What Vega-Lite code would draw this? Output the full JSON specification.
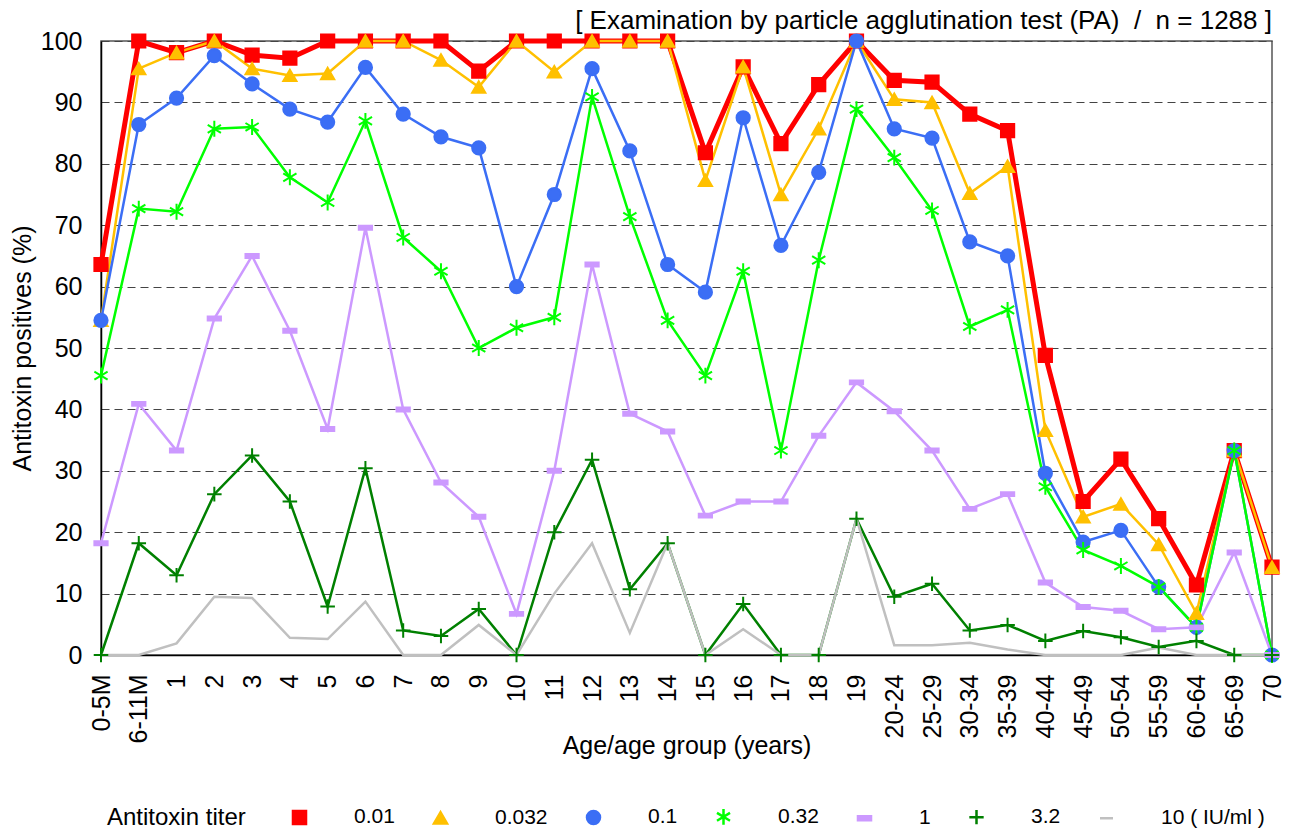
{
  "$schema": "https://vega.github.io/schema/vega-lite/v6.json",
  "width": 1171,
  "height": 614,
  "autosize": {"type": "none"},
  "padding": {"left": 101, "top": 41, "right": 18, "bottom": 182},
  "title": {"text": "[ Examination by particle agglutination test (PA)\u00a0 /\u00a0 n = 1288 ]", "anchor": "end", "frame": "group", "fontSize": 26, "fontWeight": "normal", "offset": -5, "color": "#000"},
  "datasets": {
    "d": [
      {"age":"0-5M","titer":"0.01","pct":63.6},{"age":"6-11M","titer":"0.01","pct":100},{"age":"1","titer":"0.01","pct":98.1},{"age":"2","titer":"0.01","pct":100},{"age":"3","titer":"0.01","pct":97.7},{"age":"4","titer":"0.01","pct":97.2},{"age":"5","titer":"0.01","pct":100},{"age":"6","titer":"0.01","pct":100},{"age":"7","titer":"0.01","pct":100},{"age":"8","titer":"0.01","pct":100},{"age":"9","titer":"0.01","pct":95.1},{"age":"10","titer":"0.01","pct":100},{"age":"11","titer":"0.01","pct":100},{"age":"12","titer":"0.01","pct":100},{"age":"13","titer":"0.01","pct":100},{"age":"14","titer":"0.01","pct":100},{"age":"15","titer":"0.01","pct":81.8},{"age":"16","titer":"0.01","pct":95.8},{"age":"17","titer":"0.01","pct":83.3},{"age":"18","titer":"0.01","pct":92.9},{"age":"19","titer":"0.01","pct":100},{"age":"20-24","titer":"0.01","pct":93.6},{"age":"25-29","titer":"0.01","pct":93.3},{"age":"30-34","titer":"0.01","pct":88.1},{"age":"35-39","titer":"0.01","pct":85.4},{"age":"40-44","titer":"0.01","pct":48.8},{"age":"45-49","titer":"0.01","pct":25.0},{"age":"50-54","titer":"0.01","pct":31.9},{"age":"55-59","titer":"0.01","pct":22.2},{"age":"60-64","titer":"0.01","pct":11.4},{"age":"65-69","titer":"0.01","pct":33.3},{"age":"70","titer":"0.01","pct":14.3},
      {"age":"0-5M","titer":"0.032","pct":54.5},{"age":"6-11M","titer":"0.032","pct":95.5},{"age":"1","titer":"0.032","pct":98.1},{"age":"2","titer":"0.032","pct":100},{"age":"3","titer":"0.032","pct":95.5},{"age":"4","titer":"0.032","pct":94.4},{"age":"5","titer":"0.032","pct":94.7},{"age":"6","titer":"0.032","pct":100},{"age":"7","titer":"0.032","pct":100},{"age":"8","titer":"0.032","pct":96.9},{"age":"9","titer":"0.032","pct":92.5},{"age":"10","titer":"0.032","pct":100},{"age":"11","titer":"0.032","pct":95.0},{"age":"12","titer":"0.032","pct":100},{"age":"13","titer":"0.032","pct":100},{"age":"14","titer":"0.032","pct":100},{"age":"15","titer":"0.032","pct":77.3},{"age":"16","titer":"0.032","pct":95.8},{"age":"17","titer":"0.032","pct":75.0},{"age":"18","titer":"0.032","pct":85.7},{"age":"19","titer":"0.032","pct":100},{"age":"20-24","titer":"0.032","pct":90.5},{"age":"25-29","titer":"0.032","pct":90.0},{"age":"30-34","titer":"0.032","pct":75.2},{"age":"35-39","titer":"0.032","pct":79.6},{"age":"40-44","titer":"0.032","pct":36.6},{"age":"45-49","titer":"0.032","pct":22.5},{"age":"50-54","titer":"0.032","pct":24.6},{"age":"55-59","titer":"0.032","pct":18.0},{"age":"60-64","titer":"0.032","pct":6.8},{"age":"65-69","titer":"0.032","pct":33.3},{"age":"70","titer":"0.032","pct":14.3},
      {"age":"0-5M","titer":"0.1","pct":54.5},{"age":"6-11M","titer":"0.1","pct":86.4},{"age":"1","titer":"0.1","pct":90.7},{"age":"2","titer":"0.1","pct":97.6},{"age":"3","titer":"0.1","pct":93.0},{"age":"4","titer":"0.1","pct":88.9},{"age":"5","titer":"0.1","pct":86.8},{"age":"6","titer":"0.1","pct":95.7},{"age":"7","titer":"0.1","pct":88.1},{"age":"8","titer":"0.1","pct":84.4},{"age":"9","titer":"0.1","pct":82.6},{"age":"10","titer":"0.1","pct":60.0},{"age":"11","titer":"0.1","pct":75.0},{"age":"12","titer":"0.1","pct":95.5},{"age":"13","titer":"0.1","pct":82.1},{"age":"14","titer":"0.1","pct":63.6},{"age":"15","titer":"0.1","pct":59.1},{"age":"16","titer":"0.1","pct":87.5},{"age":"17","titer":"0.1","pct":66.7},{"age":"18","titer":"0.1","pct":78.6},{"age":"19","titer":"0.1","pct":100},{"age":"20-24","titer":"0.1","pct":85.7},{"age":"25-29","titer":"0.1","pct":84.2},{"age":"30-34","titer":"0.1","pct":67.3},{"age":"35-39","titer":"0.1","pct":65.0},{"age":"40-44","titer":"0.1","pct":29.6},{"age":"45-49","titer":"0.1","pct":18.4},{"age":"50-54","titer":"0.1","pct":20.3},{"age":"55-59","titer":"0.1","pct":11.1},{"age":"60-64","titer":"0.1","pct":4.5},{"age":"65-69","titer":"0.1","pct":33.3},{"age":"70","titer":"0.1","pct":0},
      {"age":"0-5M","titer":"0.32","pct":45.5},{"age":"6-11M","titer":"0.32","pct":72.7},{"age":"1","titer":"0.32","pct":72.2},{"age":"2","titer":"0.32","pct":85.7},{"age":"3","titer":"0.32","pct":86.0},{"age":"4","titer":"0.32","pct":77.8},{"age":"5","titer":"0.32","pct":73.7},{"age":"6","titer":"0.32","pct":87.0},{"age":"7","titer":"0.32","pct":68.0},{"age":"8","titer":"0.32","pct":62.5},{"age":"9","titer":"0.32","pct":50.0},{"age":"10","titer":"0.32","pct":53.3},{"age":"11","titer":"0.32","pct":55.0},{"age":"12","titer":"0.32","pct":90.9},{"age":"13","titer":"0.32","pct":71.4},{"age":"14","titer":"0.32","pct":54.5},{"age":"15","titer":"0.32","pct":45.5},{"age":"16","titer":"0.32","pct":62.5},{"age":"17","titer":"0.32","pct":33.3},{"age":"18","titer":"0.32","pct":64.3},{"age":"19","titer":"0.32","pct":88.9},{"age":"20-24","titer":"0.32","pct":81.0},{"age":"25-29","titer":"0.32","pct":72.4},{"age":"30-34","titer":"0.32","pct":53.5},{"age":"35-39","titer":"0.32","pct":56.2},{"age":"40-44","titer":"0.32","pct":27.4},{"age":"45-49","titer":"0.32","pct":17.1},{"age":"50-54","titer":"0.32","pct":14.5},{"age":"55-59","titer":"0.32","pct":11.1},{"age":"60-64","titer":"0.32","pct":4.5},{"age":"65-69","titer":"0.32","pct":33.3},{"age":"70","titer":"0.32","pct":0},
      {"age":"0-5M","titer":"1","pct":18.2},{"age":"6-11M","titer":"1","pct":40.9},{"age":"1","titer":"1","pct":33.3},{"age":"2","titer":"1","pct":54.8},{"age":"3","titer":"1","pct":65.0},{"age":"4","titer":"1","pct":52.8},{"age":"5","titer":"1","pct":36.8},{"age":"6","titer":"1","pct":69.6},{"age":"7","titer":"1","pct":40.0},{"age":"8","titer":"1","pct":28.1},{"age":"9","titer":"1","pct":22.5},{"age":"10","titer":"1","pct":6.7},{"age":"11","titer":"1","pct":30.0},{"age":"12","titer":"1","pct":63.6},{"age":"13","titer":"1","pct":39.3},{"age":"14","titer":"1","pct":36.4},{"age":"15","titer":"1","pct":22.7},{"age":"16","titer":"1","pct":25.0},{"age":"17","titer":"1","pct":25.0},{"age":"18","titer":"1","pct":35.7},{"age":"19","titer":"1","pct":44.4},{"age":"20-24","titer":"1","pct":39.7},{"age":"25-29","titer":"1","pct":33.3},{"age":"30-34","titer":"1","pct":23.8},{"age":"35-39","titer":"1","pct":26.2},{"age":"40-44","titer":"1","pct":11.8},{"age":"45-49","titer":"1","pct":7.8},{"age":"50-54","titer":"1","pct":7.2},{"age":"55-59","titer":"1","pct":4.2},{"age":"60-64","titer":"1","pct":4.5},{"age":"65-69","titer":"1","pct":16.7},{"age":"70","titer":"1","pct":0},
      {"age":"0-5M","titer":"3.2","pct":0},{"age":"6-11M","titer":"3.2","pct":18.2},{"age":"1","titer":"3.2","pct":13.0},{"age":"2","titer":"3.2","pct":26.2},{"age":"3","titer":"3.2","pct":32.5},{"age":"4","titer":"3.2","pct":25.0},{"age":"5","titer":"3.2","pct":7.9},{"age":"6","titer":"3.2","pct":30.4},{"age":"7","titer":"3.2","pct":4.0},{"age":"8","titer":"3.2","pct":3.1},{"age":"9","titer":"3.2","pct":7.5},{"age":"10","titer":"3.2","pct":0},{"age":"11","titer":"3.2","pct":20.0},{"age":"12","titer":"3.2","pct":31.8},{"age":"13","titer":"3.2","pct":10.7},{"age":"14","titer":"3.2","pct":18.2},{"age":"15","titer":"3.2","pct":0},{"age":"16","titer":"3.2","pct":8.3},{"age":"17","titer":"3.2","pct":0},{"age":"18","titer":"3.2","pct":0},{"age":"19","titer":"3.2","pct":22.2},{"age":"20-24","titer":"3.2","pct":9.5},{"age":"25-29","titer":"3.2","pct":11.6},{"age":"30-34","titer":"3.2","pct":4.0},{"age":"35-39","titer":"3.2","pct":4.9},{"age":"40-44","titer":"3.2","pct":2.3},{"age":"45-49","titer":"3.2","pct":3.9},{"age":"50-54","titer":"3.2","pct":2.9},{"age":"55-59","titer":"3.2","pct":1.3},{"age":"60-64","titer":"3.2","pct":2.3},{"age":"65-69","titer":"3.2","pct":0},{"age":"70","titer":"3.2","pct":0},
      {"age":"0-5M","titer":"10 ( IU/ml )","pct":0},{"age":"6-11M","titer":"10 ( IU/ml )","pct":0},{"age":"1","titer":"10 ( IU/ml )","pct":1.9},{"age":"2","titer":"10 ( IU/ml )","pct":9.5},{"age":"3","titer":"10 ( IU/ml )","pct":9.3},{"age":"4","titer":"10 ( IU/ml )","pct":2.8},{"age":"5","titer":"10 ( IU/ml )","pct":2.6},{"age":"6","titer":"10 ( IU/ml )","pct":8.7},{"age":"7","titer":"10 ( IU/ml )","pct":0},{"age":"8","titer":"10 ( IU/ml )","pct":0},{"age":"9","titer":"10 ( IU/ml )","pct":4.9},{"age":"10","titer":"10 ( IU/ml )","pct":0},{"age":"11","titer":"10 ( IU/ml )","pct":10.0},{"age":"12","titer":"10 ( IU/ml )","pct":18.2},{"age":"13","titer":"10 ( IU/ml )","pct":3.6},{"age":"14","titer":"10 ( IU/ml )","pct":18.2},{"age":"15","titer":"10 ( IU/ml )","pct":0},{"age":"16","titer":"10 ( IU/ml )","pct":4.2},{"age":"17","titer":"10 ( IU/ml )","pct":0},{"age":"18","titer":"10 ( IU/ml )","pct":0},{"age":"19","titer":"10 ( IU/ml )","pct":22.2},{"age":"20-24","titer":"10 ( IU/ml )","pct":1.6},{"age":"25-29","titer":"10 ( IU/ml )","pct":1.6},{"age":"30-34","titer":"10 ( IU/ml )","pct":2.0},{"age":"35-39","titer":"10 ( IU/ml )","pct":0.9},{"age":"40-44","titer":"10 ( IU/ml )","pct":0},{"age":"45-49","titer":"10 ( IU/ml )","pct":0},{"age":"50-54","titer":"10 ( IU/ml )","pct":0},{"age":"55-59","titer":"10 ( IU/ml )","pct":1.2},{"age":"60-64","titer":"10 ( IU/ml )","pct":0},{"age":"65-69","titer":"10 ( IU/ml )","pct":0},{"age":"70","titer":"10 ( IU/ml )","pct":0}
    ]
  },
  "data": {"name": "d"},
  "encoding": {
    "x": {
      "field": "age", "type": "ordinal", "sort": null,
      "scale": {"type": "point", "padding": 0, "domain": ["0-5M","6-11M","1","2","3","4","5","6","7","8","9","10","11","12","13","14","15","16","17","18","19","20-24","25-29","30-34","35-39","40-44","45-49","50-54","55-59","60-64","65-69","70"]},
      "axis": {"title": "Age/age group (years)", "labelAngle": -90, "ticks": false, "labelPadding": 19, "labelFontSize": 25, "titleFontSize": 25, "titleFontWeight": "normal", "grid": false, "domainColor": "#000", "domainWidth": 1.5, "titleY": 90, "titleBaseline": "middle", "labelColor": "#000", "titleColor": "#000"}
    },
    "y": {
      "field": "pct", "type": "quantitative",
      "scale": {"domain": [0, 100], "nice": false},
      "axis": {"title": "Antitoxin positives (%)", "values": [0,10,20,30,40,50,60,70,80,90,100], "ticks": false, "labelPadding": 19, "labelFontSize": 25, "titleFontSize": 25, "titleFontWeight": "normal", "grid": true, "gridDash": [8, 5], "gridColor": "#444", "gridWidth": 1.2, "domainColor": "#000", "domainWidth": 1.5, "titleX": -79, "titleBaseline": "middle", "labelColor": "#000", "titleColor": "#000"}
    },
    "stroke": {
      "field": "titer", "type": "nominal",
      "scale": {"domain": ["0.01","0.032","0.1","0.32","1","3.2","10 ( IU/ml )"], "range": ["#ff0000","#ffc000","#3b6ef5","#00ff00","#cc99ff","#008000","#c0c0c0"]},
      "legend": {
        "orient": "none", "legendX": 6, "legendY": 765, "direction": "horizontal", "columns": 7,
        "title": "Antitoxin titer", "titleOrient": "left", "titleFontSize": 24, "titleFontWeight": "normal", "titlePadding": 43, "titleColor": "#000", "titleBaseline": "middle",
        "labelFontSize": 21, "labelOffset": 44, "columnPadding": 33, "symbolSize": 170, "symbolStrokeWidth": 2.5, "labelColor": "#000"
      }
    }
  },
  "layer": [
    {
      "transform": [{"filter": "datum.titer === '0.01'"}],
      "mark": {"type": "line", "strokeWidth": 5},
      "encoding": {"order": {"value": null}}
    },
    {
      "transform": [{"filter": "datum.titer !== '0.01'"}],
      "mark": {"type": "line", "strokeWidth": 2.5},
      "encoding": {"order": {"value": null}}
    },
    {
      "transform": [{"filter": "datum.titer !== '10 ( IU/ml )'"}],
      "mark": {"type": "point", "filled": true, "strokeWidth": 2, "opacity": 1},
      "encoding": {
        "fill": {
          "field": "titer", "type": "nominal",
          "scale": {"domain": ["0.01","0.032","0.1","0.32","1","3.2","10 ( IU/ml )"], "range": ["#ff0000","#ffc000","#3b6ef5","#00ff00","#cc99ff","#008000","#c0c0c0"]}
        },
        "shape": {
          "field": "titer", "type": "nominal",
          "scale": {"domain": ["0.01","0.032","0.1","0.32","1","3.2","10 ( IU/ml )"], "range": ["square","triangle-up","circle","M0,-1.2V1.2M-1,-0.6L1,0.6M-1,0.6L1,-0.6","M-1,-0.3H1V0.3H-1Z","M-1.1,0H1.1M0,-1.1V1.1","stroke"]}
        },
        "size": {"value": 175}
      }
    }
  ],
  "config": {
    "font": "Liberation Sans",
    "view": {"stroke": "#555", "strokeWidth": 1.5}
  }
}
